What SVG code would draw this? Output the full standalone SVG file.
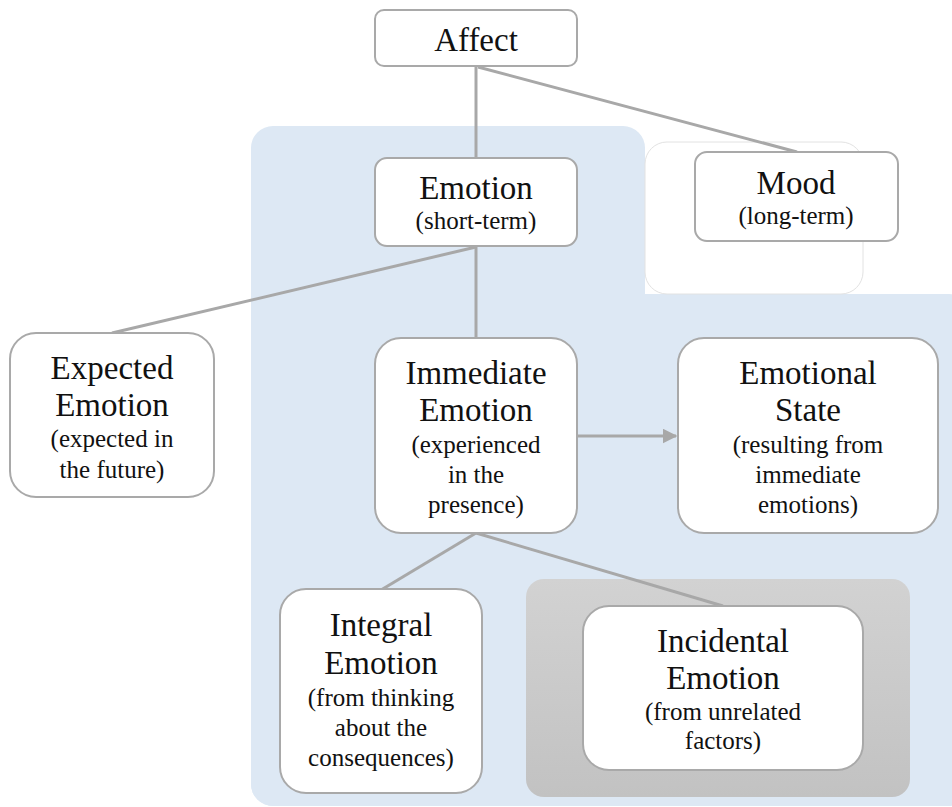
<svg xmlns="http://www.w3.org/2000/svg" width="952" height="807" viewBox="0 0 952 807">
  <style>
    .node { fill: #ffffff; stroke: #a9a9a9; stroke-width: 2; }
    .edge { stroke: #a8a8a8; stroke-width: 3; fill: none; }
    text { font-family: 'Liberation Serif', 'DejaVu Serif', 'Noto Serif', Tinos, 'Times New Roman', Times, serif; fill: #111; text-anchor: middle; }
    .title { font-size: 33px; }
    .sub { font-size: 25px; }
  </style>
  <defs>
    <marker id="arrow" viewBox="0 0 10 10" refX="9" refY="5" markerWidth="5" markerHeight="5" orient="auto" markerUnits="strokeWidth">
      <path d="M0,0 L10,5 L0,10 z" fill="#a8a8a8"/>
    </marker>
    <linearGradient id="grayFade" x1="0" y1="0" x2="0" y2="1">
      <stop offset="0" stop-color="#d2d2d2"/>
      <stop offset="1" stop-color="#c2c2c2"/>
    </linearGradient>
  </defs>

  <!-- background regions -->
  <g id="regions">
    <rect x="251" y="126" width="394" height="680" rx="22" fill="#dde8f4"/>
    <rect x="251" y="294" width="720" height="512" rx="22" fill="#dde8f4"/>
    <rect x="645" y="142" width="218" height="152" rx="22" fill="#ffffff" stroke="#e2e2e2" stroke-width="1"/>
    <rect x="526" y="579" width="384" height="218" rx="18" fill="url(#grayFade)"/>
  </g>

  <!-- connectors -->
  <g id="connectors">
    <line class="edge" x1="476" y1="66" x2="476" y2="158"/>
    <line class="edge" x1="478" y1="67" x2="797" y2="152"/>
    <line class="edge" x1="476" y1="247" x2="112" y2="333"/>
    <line class="edge" x1="476" y1="247" x2="476" y2="338"/>
    <line class="edge" x1="476" y1="533" x2="381" y2="590"/>
    <line class="edge" x1="476" y1="533" x2="723" y2="606"/>
    <line class="edge" x1="577" y1="436" x2="676" y2="436" marker-end="url(#arrow)"/>
  </g>

  <g id="affect">
    <rect class="node" x="375" y="10" width="202" height="56" rx="9"/>
    <text class="title" x="476" y="51">Affect</text>
  </g>

  <g id="emotion">
    <rect class="node" x="375" y="158" width="202" height="88" rx="12"/>
    <text class="title" x="476" y="199">Emotion</text>
    <text class="sub" x="476" y="229">(short-term)</text>
  </g>

  <g id="mood">
    <rect class="node" x="695" y="152" width="203" height="89" rx="12"/>
    <text class="title" x="796" y="194">Mood</text>
    <text class="sub" x="796" y="224">(long-term)</text>
  </g>

  <g id="expected-emotion">
    <rect class="node" x="10" y="333" width="204" height="164" rx="26"/>
    <text class="title" x="112" y="379">Expected</text>
    <text class="title" x="112" y="416">Emotion</text>
    <text class="sub" x="112" y="447">(expected in</text>
    <text class="sub" x="112" y="478">the future)</text>
  </g>

  <g id="immediate-emotion">
    <rect class="node" x="375" y="338" width="202" height="195" rx="26"/>
    <text class="title" x="476" y="384">Immediate</text>
    <text class="title" x="476" y="421">Emotion</text>
    <text class="sub" x="476" y="453">(experienced</text>
    <text class="sub" x="476" y="483">in the</text>
    <text class="sub" x="476" y="513">presence)</text>
  </g>

  <g id="emotional-state">
    <rect class="node" x="678" y="338" width="260" height="195" rx="26"/>
    <text class="title" x="808" y="384">Emotional</text>
    <text class="title" x="808" y="421">State</text>
    <text class="sub" x="808" y="453">(resulting from</text>
    <text class="sub" x="808" y="483">immediate</text>
    <text class="sub" x="808" y="513">emotions)</text>
  </g>

  <g id="integral-emotion">
    <rect class="node" x="280" y="589" width="202" height="204" rx="26"/>
    <text class="title" x="381" y="636">Integral</text>
    <text class="title" x="381" y="674">Emotion</text>
    <text class="sub" x="381" y="706">(from thinking</text>
    <text class="sub" x="381" y="736">about the</text>
    <text class="sub" x="381" y="766">consequences)</text>
  </g>

  <g id="incidental-emotion">
    <rect class="node" x="583" y="606" width="280" height="164" rx="26"/>
    <text class="title" x="723" y="652">Incidental</text>
    <text class="title" x="723" y="689">Emotion</text>
    <text class="sub" x="723" y="720">(from unrelated</text>
    <text class="sub" x="723" y="749">factors)</text>
  </g>
</svg>
